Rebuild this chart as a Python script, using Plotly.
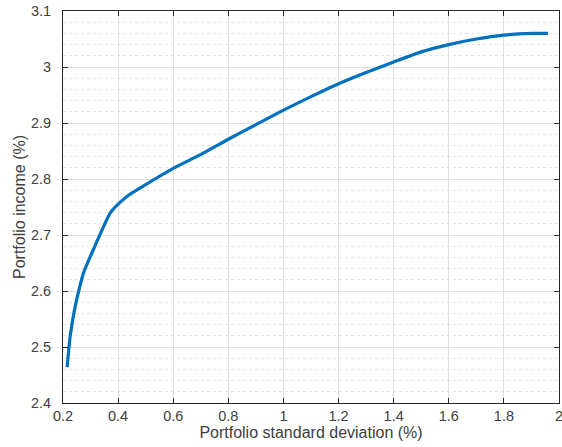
import plotly.graph_objects as go

# Efficient frontier
std_dev = [0.215, 0.226, 0.242, 0.257, 0.275, 0.311, 0.371, 0.40, 0.438, 0.50,
           0.60, 0.697, 0.80, 0.90, 1.00, 1.10, 1.20, 1.30, 1.40, 1.50,
           1.60, 1.70, 1.80, 1.90, 1.96]
income = [2.464, 2.519, 2.567, 2.600, 2.633, 2.675, 2.739, 2.755, 2.771, 2.790,
          2.819, 2.843, 2.871, 2.897, 2.923, 2.947, 2.970, 2.990, 3.009, 3.027,
          3.040, 3.050, 3.057, 3.060, 3.060]

x_tickvals = [0.2, 0.4, 0.6, 0.8, 1.0, 1.2, 1.4, 1.6, 1.8, 2.0]
x_ticktext = ["0.2", "0.4", "0.6", "0.8", "1", "1.2", "1.4", "1.6", "1.8", "2"]
y_tickvals = [2.4, 2.5, 2.6, 2.7, 2.8, 2.9, 3.0, 3.1]
y_ticktext = ["2.4", "2.5", "2.6", "2.7", "2.8", "2.9", "3", "3.1"]

axis_color = "#262626"
grid_color = "#dfdfdf"
tick_font = dict(family="Liberation Sans, Arial, sans-serif", size=14.5, color="#404040")
title_font = dict(family="Liberation Sans, Arial, sans-serif", size=16, color="#404040")

fig = go.Figure()
fig.add_trace(go.Scatter(
    x=std_dev, y=income, mode="lines",
    line=dict(color="#0072BD", width=3.2, shape="spline", smoothing=0.5),
    showlegend=False, hoverinfo="skip",
))

fig.update_layout(
    width=562, height=447,
    margin=dict(l=63, r=3, t=11, b=44),
    paper_bgcolor="white", plot_bgcolor="white",
    font=tick_font,
    xaxis=dict(
        range=[0.2, 2.0], tickvals=x_tickvals, ticktext=x_ticktext,
        showline=True, linecolor=axis_color, linewidth=1, mirror="allticks",
        ticks="inside", ticklen=5, tickcolor=axis_color, tickwidth=1,
        showgrid=True, gridcolor=grid_color, gridwidth=1, zeroline=False,
        title=dict(text="Portfolio standard deviation (%)", standoff=1, font=title_font),
        tickfont=tick_font, ticklabelstandoff=0, automargin=False,
        ticklabeloverflow="allow",
    ),
    yaxis=dict(
        range=[2.4, 3.1], tickvals=y_tickvals, ticktext=y_ticktext,
        showline=True, linecolor=axis_color, linewidth=1, mirror="allticks",
        ticks="inside", ticklen=5, tickcolor=axis_color, tickwidth=1,
        showgrid=True, gridcolor=grid_color, gridwidth=1, zeroline=False,
        minor=dict(dtick=0.02, tick0=2.4, showgrid=True, gridcolor="#e4e4e4",
                   griddash="dot", gridwidth=1, ticks=""),
        title=dict(text="Portfolio income (%)", standoff=1, font=title_font),
        tickfont=tick_font, ticklabelstandoff=8, automargin=False,
        ticklabeloverflow="allow",
    ),
)

fig.write_html(
    "out.html",
    config={"displayModeBar": False},
    post_script="document.body.style.margin='0';document.body.style.overflow='hidden';",
)
